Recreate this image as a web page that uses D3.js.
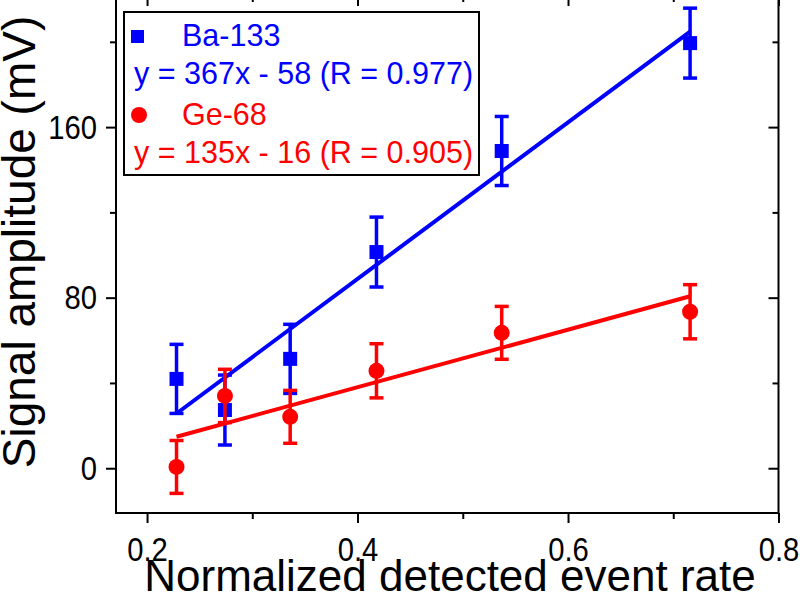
<!DOCTYPE html>
<html>
<head>
<meta charset="utf-8">
<script src="https://cdn.jsdelivr.net/npm/d3@7"></script>
<style>
  html, body { margin: 0; padding: 0; background: #fff; }
  svg { display: block; }
  text { font-family: "Liberation Sans", Arial, Helvetica, sans-serif; }
</style>
</head>
<body>
<svg id="chart" width="800" height="606"></svg>
<script>
// ---- data ----
const xRate = [0.228, 0.274, 0.336, 0.418, 0.537, 0.716];
const baValues = [41.9, 27.3, 51.3, 101.4, 148.8, 199.4];
const baErrors = [16.2, 16.4, 16.2, 16.4, 16.2, 16.4];
const geValues = [0.6, 33.9, 24.1, 45.7, 63.5, 73.4];
const geErrors = [12.4, 12.5, 12.4, 12.7, 12.4, 12.7];
const seriesNames = ["Ba-133", "Ge-68"];
const fitSlopes = [367, 135];
const fitIntercepts = [-58, -16];
const fitLabels = ["y = 367x - 58 (R = 0.977)", "y = 135x - 16 (R = 0.905)"];
const xTicks = [0.2, 0.4, 0.6, 0.8];
const xMinorTicks = [0.3, 0.5, 0.7];
const yTicks = [0, 80, 160];
const yMinorTicks = [40, 120, 200];

const colors = ["#0000ff", "#ff0000"];

const svg = d3.select("#chart");
const margin = {left: 116, right: 21.5, top: -4, bottom: 93};
const W = 800 - margin.left - margin.right;
const H = 606 - margin.top - margin.bottom;

const x = d3.scaleLinear().domain([0.1705, 0.8]).range([0, W]);
const y = d3.scaleLinear().domain([-21, 221.5]).range([H, 0]);

const g = svg.append("g").attr("transform", `translate(${margin.left},${margin.top})`);

const fmtX = d3.format(".1f");
const axisStyle = sel => {
  sel.select(".domain").remove();
  sel.selectAll("line").attr("stroke", "#000").attr("stroke-width", 2);
};
const labelStyle = sel => sel.selectAll("text")
  .attr("font-size", 34).attr("fill", "#000")
  .attr("font-family", "'Liberation Sans', Arial, sans-serif")
  .attr("transform", "scale(0.86,1)");

// bottom major
g.append("g").attr("transform", `translate(0,${H})`)
  .call(d3.axisBottom(x).tickValues(xTicks).tickFormat(fmtX).tickSize(10).tickPadding(14))
  .call(axisStyle).call(labelStyle);
// bottom minor
g.append("g").attr("transform", `translate(0,${H})`)
  .call(d3.axisBottom(x).tickValues(xMinorTicks).tickFormat("").tickSize(6))
  .call(axisStyle);
// top (inward)
g.append("g")
  .call(d3.axisBottom(x).tickValues(xTicks).tickFormat("").tickSize(10))
  .call(axisStyle);
g.append("g")
  .call(d3.axisBottom(x).tickValues(xMinorTicks).tickFormat("").tickSize(6))
  .call(axisStyle);
// left major
g.append("g")
  .call(d3.axisLeft(y).tickValues(yTicks).tickFormat(d3.format("d")).tickSize(10).tickPadding(12))
  .call(axisStyle).call(labelStyle);
g.append("g")
  .call(d3.axisLeft(y).tickValues(yMinorTicks).tickFormat("").tickSize(6))
  .call(axisStyle);
// right (inward)
g.append("g").attr("transform", `translate(${W},0)`)
  .call(d3.axisLeft(y).tickValues(yTicks).tickFormat("").tickSize(10))
  .call(axisStyle);
g.append("g").attr("transform", `translate(${W},0)`)
  .call(d3.axisLeft(y).tickValues(yMinorTicks).tickFormat("").tickSize(6))
  .call(axisStyle);

// frame
g.append("rect").attr("x", 0).attr("y", 0).attr("width", W).attr("height", H)
  .attr("fill", "none").attr("stroke", "#000").attr("stroke-width", 2);

// series
const series = [
  {name: seriesNames[0], vals: baValues, errs: baErrors, color: colors[0], shape: "square"},
  {name: seriesNames[1], vals: geValues, errs: geErrors, color: colors[1], shape: "circle"}
];

series.forEach((s, si) => {
  const pts = xRate.map((xv, i) => ({x: xv, y: s.vals[i], e: s.errs[i]}));
  const sg = g.append("g");
  const x0 = d3.min(xRate), x1 = d3.max(xRate);
  sg.append("line")
    .attr("x1", x(x0)).attr("y1", y(fitSlopes[si] * x0 + fitIntercepts[si]))
    .attr("x2", x(x1)).attr("y2", y(fitSlopes[si] * x1 + fitIntercepts[si]))
    .attr("stroke", s.color).attr("stroke-width", 4);
  const eb = sg.selectAll(".eb").data(pts).enter().append("g");
  eb.append("line")
    .attr("x1", d => x(d.x)).attr("x2", d => x(d.x))
    .attr("y1", d => y(d.y + d.e)).attr("y2", d => y(d.y - d.e))
    .attr("stroke", s.color).attr("stroke-width", 3.5);
  [1, -1].forEach(sign => {
    eb.append("line")
      .attr("x1", d => x(d.x) - 7).attr("x2", d => x(d.x) + 7)
      .attr("y1", d => y(d.y + sign * d.e)).attr("y2", d => y(d.y + sign * d.e))
      .attr("stroke", s.color).attr("stroke-width", 3.5);
  });
  if (s.shape === "square") {
    sg.selectAll(".m").data(pts).enter().append("rect")
      .attr("x", d => x(d.x) - 7).attr("y", d => y(d.y) - 7)
      .attr("width", 14).attr("height", 14).attr("fill", s.color);
  } else {
    sg.selectAll(".m").data(pts).enter().append("circle")
      .attr("cx", d => x(d.x)).attr("cy", d => y(d.y)).attr("r", 8).attr("fill", s.color);
  }
});

// legend
const lg = svg.append("g");
lg.append("rect").attr("x", 124).attr("y", 12).attr("width", 355).attr("height", 163)
  .attr("fill", "#fff").attr("stroke", "#000").attr("stroke-width", 2);
lg.append("rect").attr("x", 131).attr("y", 30).attr("width", 13).attr("height", 13).attr("fill", colors[0]);
lg.append("circle").attr("cx", 139).attr("cy", 115).attr("r", 8).attr("fill", colors[1]);
const legRows = [
  {text: seriesNames[0], x: 182, y: 46, c: colors[0]},
  {text: fitLabels[0], x: 134, y: 84, c: colors[0]},
  {text: seriesNames[1], x: 182, y: 125, c: colors[1]},
  {text: fitLabels[1], x: 134, y: 163, c: colors[1]}
];
lg.selectAll(".lt").data(legRows).enter().append("text")
  .attr("x", d => d.x).attr("y", d => d.y).attr("fill", d => d.c)
  .attr("font-size", 30.5).text(d => d.text);

// axis titles
svg.append("text").attr("x", 450).attr("y", 591).attr("text-anchor", "middle")
  .attr("font-size", 44).attr("fill", "#000").text("Normalized detected event rate");
svg.append("text").attr("transform", "translate(35,242) rotate(-90)").attr("text-anchor", "middle")
  .attr("font-size", 46).attr("fill", "#000").text("Signal amplitude (mV)");
</script>
</body>
</html>
